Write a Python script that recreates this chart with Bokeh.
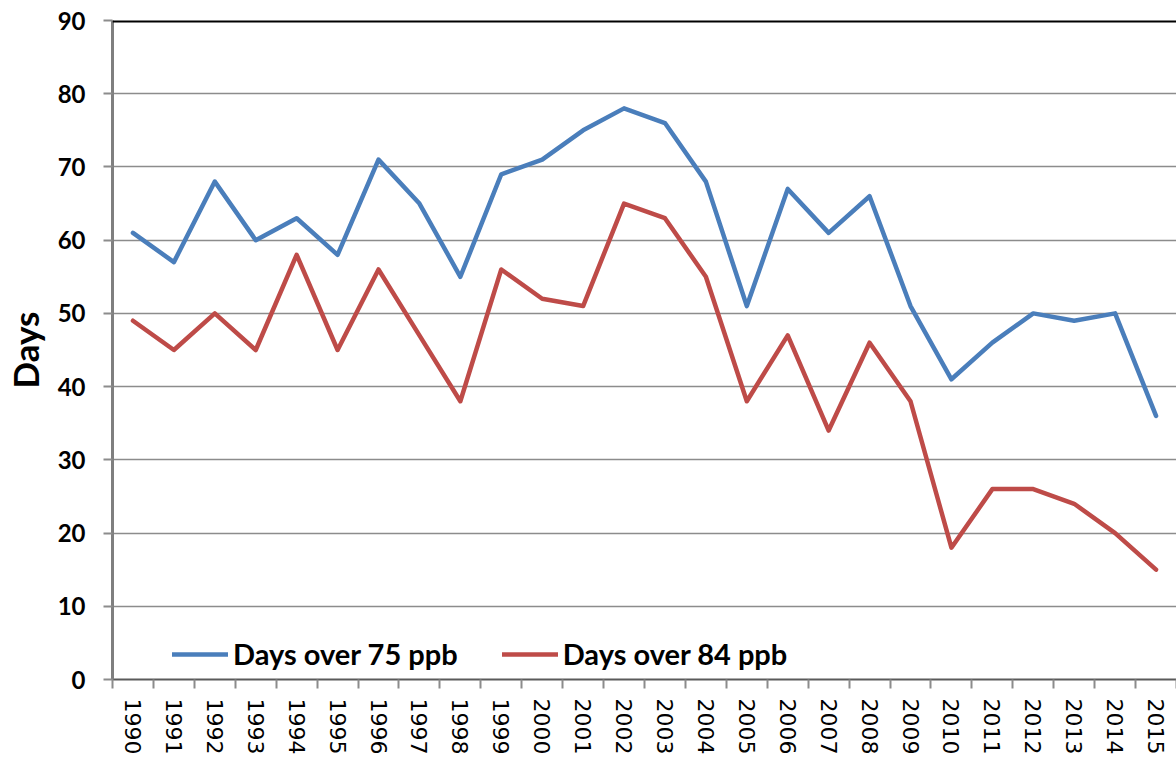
import math
from bokeh.plotting import figure
from bokeh.models import FixedTicker, Span, Legend, LegendItem, Range1d
from bokeh.embed import file_html
from bokeh.resources import INLINE

years = [str(y) for y in range(1990, 2016)]
days_over_75 = [61, 57, 68, 60, 63, 58, 71, 65, 55, 69, 71, 75, 78, 76, 68, 51, 67, 61, 66, 51, 41, 46, 50, 49, 50, 36]
days_over_84 = [49, 45, 50, 45, 58, 45, 56, 47, 38, 56, 52, 51, 65, 63, 55, 38, 47, 34, 46, 38, 18, 26, 26, 24, 20, 15]
y_ticks = list(range(0, 100, 10))

n = len(years)
xs = [i + 0.5 for i in range(n)]

p = figure(width=1176, height=757, output_backend="svg", toolbar_location=None,
           x_range=Range1d(0, n), y_range=Range1d(0, 90),
           min_border_left=100, min_border_right=0, min_border_top=20, min_border_bottom=0)
p.outline_line_color = None
p.background_fill_color = "white"
p.border_fill_color = "white"

blue = "#4A7EBB"
red = "#BE4B48"
r1 = p.line(xs, days_over_75, line_color=blue, line_width=4.5, line_join="round", line_cap="round")
r2 = p.line(xs, days_over_84, line_color=red, line_width=4.5, line_join="round", line_cap="round")

# x axis
p.xaxis.ticker = FixedTicker(ticks=xs, minor_ticks=list(range(0, n + 1)))
p.xaxis.major_label_overrides = {x: y for x, y in zip(xs, years)}
p.xaxis.major_label_orientation = -math.pi / 2
p.xaxis.major_tick_out = 0
p.xaxis.major_tick_in = 0
p.xaxis.minor_tick_out = 9
p.xaxis.minor_tick_in = 0
p.xaxis.minor_tick_line_color = "#8C8C8C"
p.xaxis.minor_tick_line_width = 2
p.xaxis.axis_line_color = "#5A5A5A"
p.xaxis.axis_line_width = 2
p.xaxis.major_label_text_font = "DejaVu Sans"
p.xaxis.major_label_text_font_size = "22px"
p.xaxis.major_label_text_color = "black"
p.xaxis.major_label_standoff = 10

# y axis
p.yaxis.ticker = FixedTicker(ticks=y_ticks)
p.yaxis.minor_tick_line_color = None
p.yaxis.major_tick_out = 9
p.yaxis.major_tick_in = 0
p.yaxis.major_tick_line_color = "#8C8C8C"
p.yaxis.major_tick_line_width = 2
p.yaxis.axis_line_color = "#7F7F7F"
p.yaxis.axis_line_width = 3
p.yaxis.major_label_text_font = "Lato"
p.yaxis.major_label_text_font_style = "bold"
p.yaxis.major_label_text_font_size = "24px"
p.yaxis.major_label_text_color = "black"
p.yaxis.major_label_standoff = 18
p.yaxis.axis_label = "Days"
p.yaxis.axis_label_text_font = "Lato"
p.yaxis.axis_label_text_font_style = "bold"
p.yaxis.axis_label_text_font_size = "35px"
p.yaxis.axis_label_text_color = "black"
p.yaxis.axis_label_standoff = 9

p.xgrid.grid_line_color = None
p.ygrid.ticker = FixedTicker(ticks=y_ticks)
p.ygrid.grid_line_color = "#8C8C8C"
p.ygrid.grid_line_width = 1.5

top = Span(location=90, dimension="width", line_color="black", line_width=4)
p.add_layout(top)

legend = Legend(items=[LegendItem(label="Days over 75 ppb", renderers=[r1]),
                       LegendItem(label="Days over 84 ppb", renderers=[r2])],
                orientation="horizontal", location=(60, 8))
legend.border_line_color = None
legend.background_fill_alpha = 0
legend.label_text_font = "Lato"
legend.label_text_font_style = "bold"
legend.label_text_font_size = "29px"
legend.label_text_color = "black"
legend.glyph_width = 56
legend.label_standoff = 5
legend.spacing = 44
legend.padding = 0
legend.margin = 0
p.add_layout(legend, "center")

open("out.html", "w").write(file_html(p, INLINE))
